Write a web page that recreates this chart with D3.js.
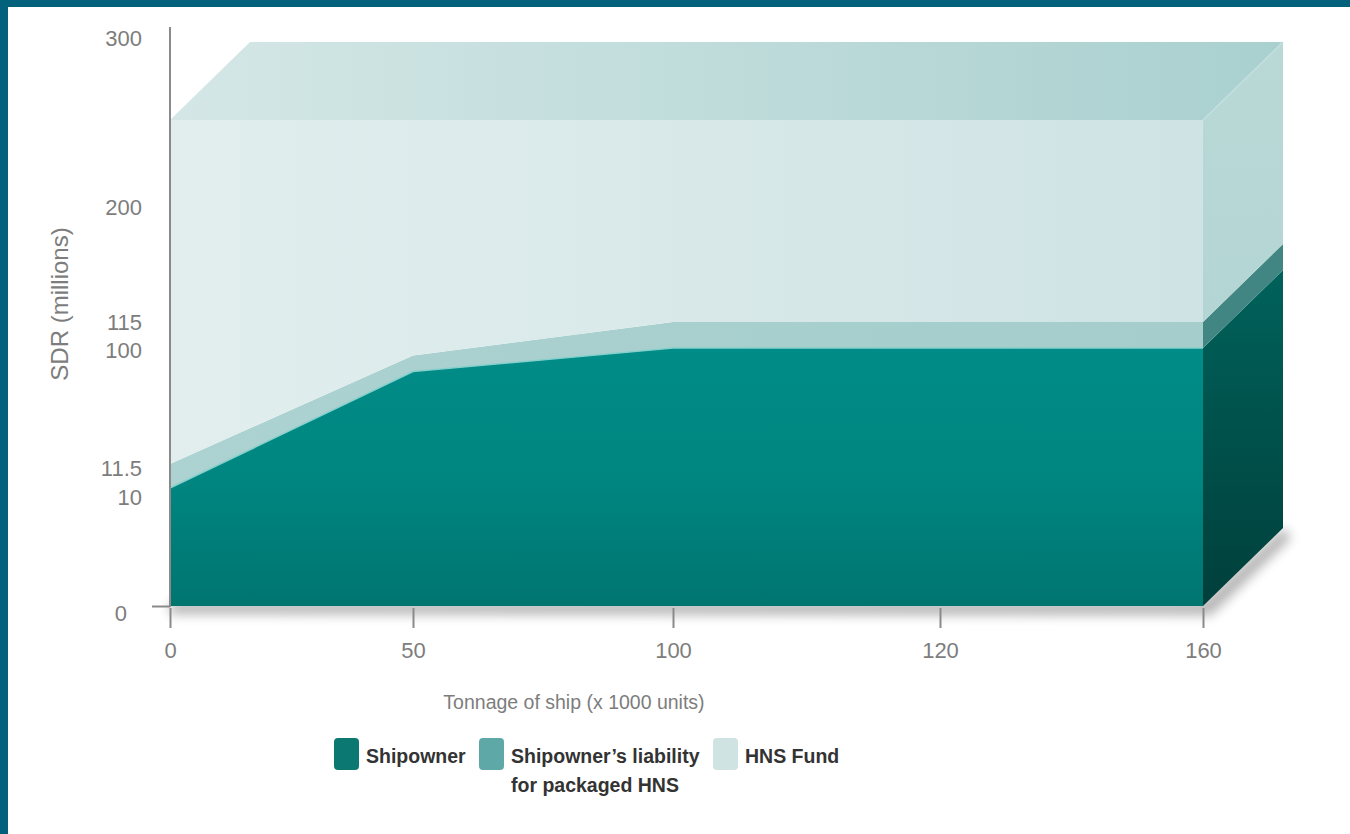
<!DOCTYPE html>
<meta charset="utf-8">
<style>
    body { margin: 0; background: #fff; }
    svg { display: block; font-family: "Liberation Sans", Arial, sans-serif; }
    .tick text { fill: #7d7d7d; font-size: 22px; }
    .tick line { stroke: #8a8a8a; stroke-width: 2px; }
    .axis-title { fill: #7d7d7d; }
    .legend text { fill: #333; font-size: 19.5px; font-weight: bold; }
</style>
<body>
<script src="https://d3js.org/d3.v7.min.js"></script>
<script>

// tonnage of ship (x 1000 units)
const tonnage = [0, 50, 100, 120, 160];
// limits in SDR millions (cumulative levels)
const shipowner = [10, 82, 100, 100, 100];
const packagedHNS = [11.5, 94.3, 115, 115, 115];
const hnsFund = [250, 250, 250, 250, 250];

const yTickValues = [0, 10, 11.5, 100, 115, 200, 300];
const legendLabels = [["Shipowner"], ["Shipowner\u2019s liability", "for packaged HNS"], ["HNS Fund"]];

const width = 1350;
const height = 834;
const depthX = 80, depthY = -78;

// the original drawing is schematic, so both scales are piecewise
const x = d3.scaleLinear()
    .domain(tonnage)
    .range([170, 413, 673, 940, 1203]);

const y = d3.scaleLinear()
    .domain([0, 10, 11.5, 100, 115, 200, 250, 300])
    .range([606, 488, 464, 348, 322, 207, 120, 38]);

const svg = d3.select("body").append("svg")
    .attr("width", width)
    .attr("height", height);

const defs = svg.append("defs");

function linGrad(id, x1, y1, x2, y2, stops) {
    const g = defs.append("linearGradient").attr("id", id)
        .attr("x1", x1).attr("y1", y1).attr("x2", x2).attr("y2", y2);
    stops.forEach(s => g.append("stop").attr("offset", s[0]).attr("stop-color", s[1]));
}

linGrad("gOwner", 0, 0, 0, 1, [[0, "#008c87"], [0.5, "#008681"], [1, "#007570"]]);
linGrad("gPack", 0, 0, 1, 0, [[0, "#acd2d1"], [1, "#a4cdcc"]]);
linGrad("gFund", 0, 0, 1, 0, [[0, "#e2eeee"], [1, "#cfe3e4"]]);
linGrad("gTop", 0, 0, 1, 0, [[0, "#d4e7e6"], [1, "#a9d0cf"]]);
linGrad("gSideOwner", 0, 0, 0, 1, [[0, "#00625b"], [1, "#003f3b"]]);
linGrad("gSideFund", 0, 0, 0, 1, [[0, "#b9d9d7"], [1, "#b3d5d3"]]);

const blur = defs.append("filter").attr("id", "shadow")
    .attr("x", "-10%").attr("y", "-50%").attr("width", "120%").attr("height", "200%");
blur.append("feGaussianBlur").attr("stdDeviation", 6);

// frame
svg.append("rect").attr("x", 0).attr("y", 0).attr("width", width).attr("height", 7).attr("fill", "#04617c");
svg.append("rect").attr("x", 0).attr("y", 0).attr("width", 8).attr("height", height).attr("fill", "#04617c");

const last = tonnage.length - 1;
const xs = x(tonnage[0]), xe = x(tonnage[last]);

// soft shadow under the block
svg.append("path")
    .attr("d", `M${xs},${y(0) - 4} L${xe},${y(0) - 4} L${xe + depthX},${y(0) + depthY} L${xe + depthX + 8},${y(0) + depthY + 10} L${xe + 8},${y(0) + 9} L${xs},${y(0) + 8} Z`)
    .attr("fill", "#000")
    .attr("opacity", 0.3)
    .attr("filter", "url(#shadow)");

const rows = tonnage.map((t, i) => ({ t, owner: shipowner[i], pack: packagedHNS[i], fund: hnsFund[i] }));

const layers = [
    { lo: d => 0, hi: d => d.owner, front: "url(#gOwner)", side: "url(#gSideOwner)" },
    { lo: d => d.owner, hi: d => d.pack, front: "url(#gPack)", side: "#428683" },
    { lo: d => d.pack, hi: d => d.fund, front: "url(#gFund)", side: "url(#gSideFund)" }
];

// front faces
layers.forEach(l => {
    svg.append("path")
        .datum(rows)
        .attr("fill", l.front)
        .attr("d", d3.area()
            .x(d => x(d.t))
            .y0(d => y(l.lo(d)))
            .y1(d => y(l.hi(d)))(rows));
});

// bright edge along the shipowner boundary
svg.append("path")
    .datum(rows)
    .attr("fill", "none")
    .attr("stroke", "#86cfcc")
    .attr("stroke-width", 1.5)
    .attr("d", d3.line().x(d => x(d.t)).y(d => y(d.owner)));

// right side faces
const end = rows[last];
layers.forEach(l => {
    const y0 = y(l.lo(end)), y1 = y(l.hi(end));
    svg.append("path")
        .attr("fill", l.side)
        .attr("d", `M${xe},${y0} L${xe},${y1} L${xe + depthX},${y1 + depthY} L${xe + depthX},${y0 + depthY} Z`);
});

// top face
const yt = y(hnsFund[0]);
svg.append("path")
    .attr("fill", "url(#gTop)")
    .attr("d", `M${xs},${yt} L${xe},${yt} L${xe + depthX},${yt + depthY} L${xs + depthX},${yt + depthY} Z`);
svg.append("path")
    .attr("fill", "none")
    .attr("stroke", "#c4e0de")
    .attr("stroke-width", 1.5)
    .attr("d", `M${xe},${yt} L${xe + depthX},${yt + depthY}`);

// y axis
svg.append("line")
    .attr("x1", xs).attr("x2", xs)
    .attr("y1", 27).attr("y2", y(0) + 1)
    .attr("stroke", "#8a8a8a").attr("stroke-width", 2);

const yAxis = svg.append("g")
    .attr("transform", `translate(${xs},0)`)
    .call(d3.axisLeft(y).tickValues(yTickValues).tickSize(0).tickPadding(28).tickFormat(d => d));
yAxis.select(".domain").remove();
const labelNudge = { 0: 7, 10: 9, 11.5: 4, 100: 2 };
yAxis.selectAll(".tick text")
    .attr("dy", d => `${0.32 + (labelNudge[d] || 0) / 22}em`);
yAxis.selectAll(".tick").filter(d => d === 0).each(function () {
    d3.select(this).select("text").attr("x", -43);
    d3.select(this).select("line").attr("x2", -18);
});

// x axis
const xAxis = svg.append("g")
    .attr("transform", `translate(0,${y(0) + 2})`)
    .call(d3.axisBottom(x).tickValues(tonnage).tickSize(20).tickPadding(14).tickFormat(d => d));
xAxis.select(".domain").remove();

svg.append("text")
    .attr("class", "axis-title")
    .attr("x", 574).attr("y", 709)
    .attr("text-anchor", "middle")
    .attr("font-size", 19.5)
    .text("Tonnage of ship (x 1000 units)");

svg.append("text")
    .attr("class", "axis-title")
    .attr("transform", "translate(68,304) rotate(-90)")
    .attr("text-anchor", "middle")
    .attr("font-size", 24)
    .text("SDR (millions)");

// legend
const legendColors = ["#0c7872", "#5ea9a7", "#cfe3e2"];
const legendX = [334, 479, 713];
const legend = svg.append("g").attr("class", "legend");
legendLabels.forEach((lines, i) => {
    legend.append("rect")
        .attr("x", legendX[i]).attr("y", 738)
        .attr("width", 25).attr("height", 32)
        .attr("rx", 4)
        .attr("fill", legendColors[i]);
    const t = legend.append("text")
        .attr("x", legendX[i] + 32).attr("y", 763);
    lines.forEach((s, j) => {
        t.append("tspan").attr("x", legendX[i] + 32).attr("dy", j ? 29 : 0).text(s);
    });
});

</script>
</body>
</html>
